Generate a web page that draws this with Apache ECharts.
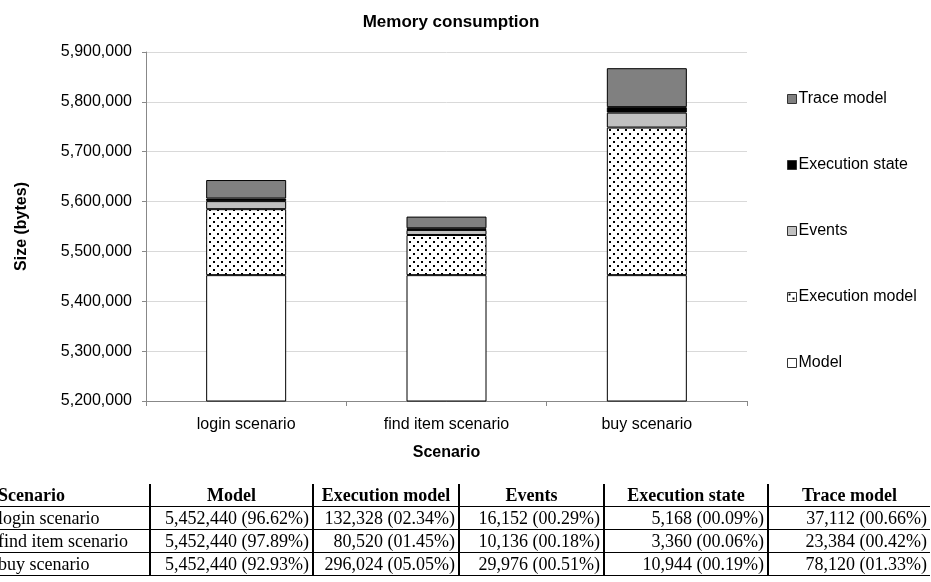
<!DOCTYPE html>
<html>
<head>
<meta charset="utf-8">
<script src="https://cdn.jsdelivr.net/npm/echarts@6/dist/echarts.min.js"></script>
<style>
  html, body { margin: 0; padding: 0; background: #fff; overflow: hidden; }
  #wrap { position: relative; width: 931px; height: 582px; overflow: hidden; }
  #chart { position: absolute; left: 0; top: 0; width: 931px; height: 582px; }
  #tbl {
    position: absolute; left: -6px; top: 484px;
    border-collapse: collapse; table-layout: fixed;
    font-family: 'Liberation Serif', 'Times New Roman', serif; font-size: 18px; color: #000;
  }
  #tbl td, #tbl th { padding: 0 3px; height: 22px; line-height: 20px; white-space: nowrap; overflow: hidden; }
  #tbl th { font-weight: bold; text-align: center; border-bottom: 1px solid #000; }
  #tbl td { text-align: right; border-top: 1px solid #000; border-bottom: 1px solid #000; }
  #tbl td:first-child, #tbl th:first-child { text-align: left; padding-left: 4px; }
  #tbl td + td, #tbl th + th { border-left: 2px solid #000; }
</style>
</head>
<body>
<div id="wrap">
  <div id="chart"></div>
  <table id="tbl"></table>
</div>
<script>
// data
const scenarios = ['login scenario', 'find item scenario', 'buy scenario'];
const seriesNames = ['Model', 'Execution model', 'Events', 'Execution state', 'Trace model'];
const modelVals = [5452440, 5452440, 5452440];
const execModelVals = [132328, 80520, 296024];
const eventsVals = [16152, 10136, 29976];
const execStateVals = [5168, 3360, 10944];
const traceVals = [37112, 23384, 78120];
const yTicks = [5200000, 5900000, 100000]; // min, max, step

const allVals = [modelVals, execModelVals, eventsVals, execStateVals, traceVals];

// dotted fill for "Execution model"
const dots = document.createElement('canvas');
dots.width = 8; dots.height = 8;
const dctx = dots.getContext('2d');
dctx.fillStyle = '#fff';
dctx.fillRect(0, 0, 8, 8);
dctx.fillStyle = '#000';
dctx.fillRect(1, 1, 2, 2);
dctx.fillRect(5, 5, 2, 2);

const fills = ['#ffffff', { image: dots, repeat: 'repeat' }, '#c0c0c0', '#000000', '#808080'];

const font = 'Liberation Sans, Arial, sans-serif';
const chart = echarts.init(document.getElementById('chart'));

chart.setOption({
  animation: false,
  backgroundColor: '#fff',
  textStyle: { fontFamily: font },
  title: {
    text: 'Memory consumption',
    left: 446, top: 9, textAlign: 'center',
    textStyle: { fontSize: 17, fontWeight: 'bold', color: '#000', fontFamily: font }
  },
  legend: {
    orient: 'vertical',
    left: 782, top: 86,
    itemWidth: 9, itemHeight: 9,
    itemGap: 50,
    icon: 'rect',
    data: seriesNames.slice().reverse(),
    itemStyle: { borderColor: '#333', borderWidth: 1 },
    textStyle: { fontSize: 16, color: '#000', fontFamily: font, lineHeight: 16, padding: [0, 0, 0, -3] }
  },
  grid: { left: 146, right: 184, top: 52, bottom: 181 },
  xAxis: {
    type: 'category',
    data: scenarios,
    name: 'Scenario',
    nameLocation: 'middle',
    nameGap: 44,
    nameTextStyle: { fontSize: 16, fontWeight: 'bold', color: '#000' },
    axisLine: { lineStyle: { color: '#888', width: 1 } },
    axisTick: { show: true, length: 5, alignWithLabel: false, lineStyle: { color: '#888' } },
    axisLabel: { fontSize: 16, color: '#000', margin: 16 }
  },
  yAxis: {
    type: 'value',
    min: yTicks[0], max: yTicks[1], interval: yTicks[2],
    name: 'Size (bytes)',
    nameLocation: 'middle',
    nameRotate: 90,
    nameGap: 116,
    nameTextStyle: { fontSize: 16, fontWeight: 'bold', color: '#000' },
    axisLine: { show: true, lineStyle: { color: '#888', width: 1 } },
    axisTick: { show: true, length: 4, lineStyle: { color: '#888' } },
    axisLabel: {
      fontSize: 16, color: '#000', margin: 14,
      formatter: v => v.toLocaleString('en-US')
    },
    splitLine: { lineStyle: { color: '#d9d9d9', width: 1 } }
  },
  series: seriesNames.map((name, i) => ({
    name,
    type: 'bar',
    stack: 'mem',
    barWidth: 80,
    data: allVals[i],
    itemStyle: { color: fills[i], borderColor: '#000', borderWidth: 1 },
    emphasis: { disabled: true }
  }))
});

// table below the chart
const pct = (v, t) => (v / t * 100).toFixed(2).padStart(5, '0') + '%';
const fmt = v => v.toLocaleString('en-US');
const colW = [156, 163, 146, 145, 164, 162];
const tbl = document.getElementById('tbl');
tbl.style.width = colW.reduce((a, b) => a + b, 0) + 'px';
let html = '<colgroup>' + colW.map(w => '<col style="width:' + w + 'px">').join('') + '</colgroup>';
html += '<tr><th>Scenario</th>' + seriesNames.map(n => '<th>' + n + '</th>').join('') + '</tr>';
scenarios.forEach((s, r) => {
  const total = allVals.reduce((a, arr) => a + arr[r], 0);
  html += '<tr><td>' + s + '</td>' +
    allVals.map(arr => '<td>' + fmt(arr[r]) + ' (' + pct(arr[r], total) + ')</td>').join('') + '</tr>';
});
tbl.innerHTML = html;
</script>
</body>
</html>
